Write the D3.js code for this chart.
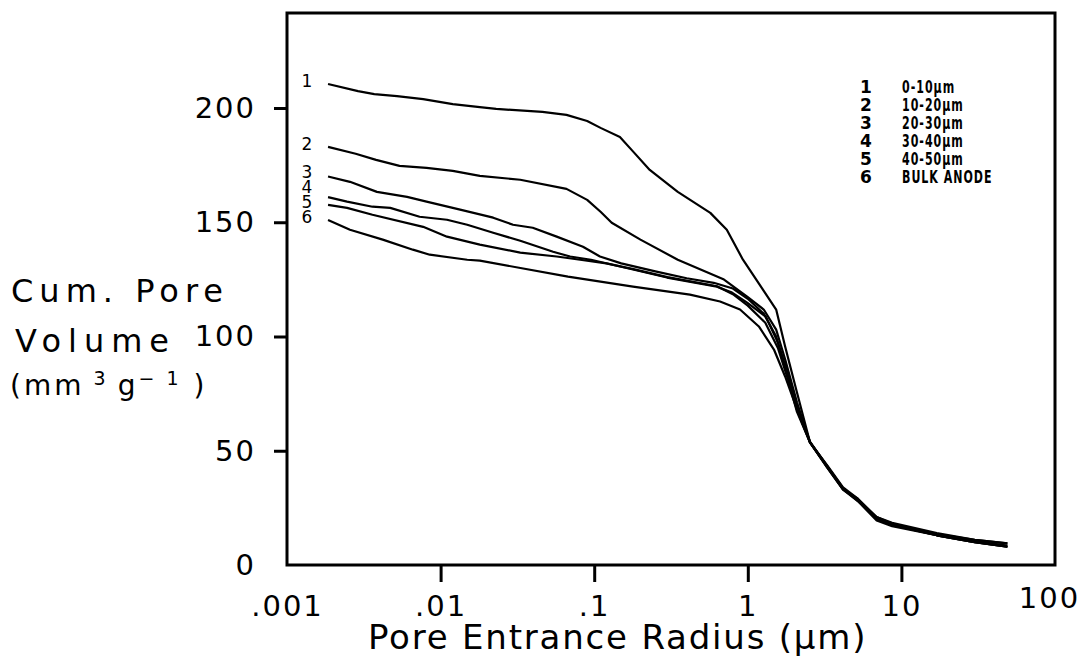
<!DOCTYPE html>
<html>
<head>
<meta charset="utf-8">
<script src="https://cdn.jsdelivr.net/npm/d3@7/dist/d3.min.js"></script>
<style>
body { margin: 0; background: #fff; }
text { font-family: "DejaVu Sans", sans-serif; fill: #000; }
</style>
</head>
<body>
<div id="chart"></div>
<script>
// cumulative pore volume curves : [pore entrance radius (um), volume (mm3/g)]
var curve1 = [[0.00185,210.5],[0.0029,207.4],[0.0037,206.1],[0.0052,205.2],[0.0077,203.9],[0.012,201.7],[0.018,200.4],[0.023,199.6],[0.046,198.3],[0.066,197.0],[0.09,194.3],[0.11,191.3],[0.147,187.3],[0.18,180.8],[0.23,172.9],[0.35,163.3],[0.57,154.1],[0.73,146.7],[0.93,133.6],[1.53,111.8],[1.75,95.6],[2.09,75.5],[2.54,53.7],[3.3,43],[4.17,33.2],[5.2,29],[6.9,20.5],[8.7,18],[17,13.5],[30,11],[49,9.5]];
var curve2 = [[0.00185,183],[0.0028,180],[0.0038,177.3],[0.0054,174.7],[0.0081,173.8],[0.012,172.5],[0.018,170.3],[0.033,168.6],[0.066,164.6],[0.09,159.8],[0.11,154.6],[0.13,149.8],[0.2,142.4],[0.35,133.6],[0.7,124.9],[0.99,117.5],[1.27,111.8],[1.53,103],[1.75,90],[2.09,71.2],[2.54,53.7],[3.3,43],[4.17,33.5],[5.2,28],[6.9,21],[8.7,18.5],[17,14],[30,11],[49,9.5]];
var curve3 = [[0.00185,170],[0.00257,167.7],[0.00385,163.3],[0.00605,161.1],[0.0081,159],[0.0134,155.5],[0.022,152],[0.0296,148.9],[0.0398,147.6],[0.057,143.7],[0.0845,139.3],[0.109,135],[0.15,132],[0.25,128.5],[0.4,125.5],[0.6,123.5],[0.8,121],[1.0,116.5],[1.27,110],[1.53,100],[1.75,86],[2.09,70],[2.54,54],[3.3,43],[4.17,33.5],[5.2,28.5],[6.9,20],[8.7,17.5],[17,13],[30,10],[49,8]];
var curve4 = [[0.00185,161],[0.00246,159],[0.0036,156.8],[0.0047,156.3],[0.0073,152.4],[0.011,151.1],[0.0149,148.9],[0.022,145.4],[0.033,141.9],[0.054,137.1],[0.0697,135],[0.0953,133.6],[0.179,129.3],[0.298,125.8],[0.63,121.8],[0.79,119.2],[0.99,114.8],[1.31,108.7],[1.57,97.4],[1.85,82.5],[2.09,68],[2.54,53.7],[3.3,43.5],[4.17,34],[5.2,29],[6.9,21],[8.7,18],[17,13.5],[30,10.5],[49,8.5]];
var curve5 = [[0.00185,157.6],[0.00246,156.3],[0.0036,153.3],[0.0077,148],[0.011,143.7],[0.018,140.2],[0.033,136.7],[0.057,135],[0.081,133.6],[0.12,132],[0.18,129.5],[0.3,126],[0.63,122],[0.8,118.5],[1.0,113.5],[1.3,106],[1.57,95],[1.85,80],[2.09,67],[2.54,53.7],[3.3,42.5],[4.17,33],[5.2,28],[6.9,19.5],[8.7,17],[17,13],[30,10],[49,8]];
var curve6 = [[0.00185,151],[0.00257,146.7],[0.0042,142.4],[0.0066,138],[0.0085,135.8],[0.0149,133.6],[0.018,133.2],[0.0675,126.2],[0.179,121.8],[0.42,118.3],[0.66,115.3],[0.89,111.8],[1.18,104.4],[1.48,94.3],[1.75,82.5],[2.09,68.1],[2.54,53.7],[3.3,42.5],[4.17,33],[5.2,28.5],[6.9,20],[8.7,17.5],[17,13],[30,10],[49,8]];

var curves = [curve1, curve2, curve3, curve4, curve5, curve6];
var curveNames = ["1", "2", "3", "4", "5", "6"];
var legendLabels = ["0-10\u00b5m", "10-20\u00b5m", "20-30\u00b5m", "30-40\u00b5m", "40-50\u00b5m", "BULK ANODE"];

var xTicks = [0.001, 0.01, 0.1, 1, 10, 100];
var xTickLabels = [".001", ".01", ".1", "1", "10", "100"];
var yTicks = [0, 50, 100, 150, 200];

var width = 1082, height = 658;
// note: "top" is taken by window.top, so plot* names
var plotLeft = 287, plotRight = 1055, plotTop = 13, plotBottom = 565;

var svg = d3.select("#chart")
	.append("svg")
	.attr("width", width)
	.attr("height", height);

var x = d3.scaleLog().domain([0.001, 100]).range([plotLeft, plotRight]);
var y = d3.scaleLinear().domain([0, 200]).range([plotBottom, 108]);

// frame
svg.append("rect")
	.attr("x", plotLeft)
	.attr("y", plotTop)
	.attr("width", plotRight - plotLeft)
	.attr("height", plotBottom - plotTop)
	.attr("fill", "none")
	.attr("stroke", "#000")
	.attr("stroke-width", 3);

// x axis
svg.append("g")
	.attr("transform", `translate(0,${plotBottom})`)
	.call(d3.axisBottom(x).tickValues(xTicks).tickSize(17).tickPadding(13).tickFormat((d, i) => xTickLabels[i]))
	.call(g => g.select(".domain").remove())
	.call(g => g.selectAll(".tick line").attr("stroke-width", 3))
	.call(g => g.selectAll(".tick").filter((d, i) => i == 0 || i == xTicks.length - 1).select("line").remove())
	.call(g => g.selectAll(".tick text").attr("font-size", 29).attr("font-family", "DejaVu Sans").attr("letter-spacing", 2))
	.call(g => g.selectAll(".tick").filter((d, i) => i == xTicks.length - 1).select("text").attr("y", 22).attr("dx", -6));

// y axis
svg.append("g")
	.attr("transform", `translate(${plotLeft},0)`)
	.call(d3.axisLeft(y).tickValues(yTicks).tickSize(13).tickPadding(18))
	.call(g => g.select(".domain").remove())
	.call(g => g.selectAll(".tick line").attr("stroke-width", 3))
	.call(g => g.selectAll(".tick").filter(d => d == 0).select("line").remove())
	.call(g => g.selectAll(".tick text").attr("font-size", 29).attr("font-family", "DejaVu Sans").attr("letter-spacing", 2));

// curves
var line = d3.line()
	.x(d => x(d[0]))
	.y(d => y(d[1]));

svg.append("g")
	.selectAll("path")
	.data(curves)
	.enter()
	.append("path")
	.attr("d", line)
	.attr("fill", "none")
	.attr("stroke", "#000")
	.attr("stroke-width", 2.2)
	.attr("stroke-linejoin", "round");

// curve numbers at the left ends, pushed up so they do not overlap
var labelY = curves.map(c => y(c[0][1]) - 3);
for (var i = labelY.length - 2; i >= 0; i--) {
	labelY[i] = Math.min(labelY[i], labelY[i + 1] - 15);
}
svg.append("g")
	.selectAll("text")
	.data(curveNames)
	.enter()
	.append("text")
	.attr("x", x(curve1[0][0]) - 21)
	.attr("y", (d, i) => labelY[i])
	.attr("dy", "0.35em")
	.attr("text-anchor", "middle")
	.attr("font-size", 17)
	.text(d => d);

// legend (narrow plotter lettering -> squeezed horizontally)
var legendY = (d, i) => 93 + i * 18;
svg.append("g")
	.attr("font-size", 17)
	.attr("font-weight", "bold")
	.selectAll("text")
	.data(curveNames)
	.enter()
	.append("text")
	.attr("x", 866)
	.attr("y", legendY)
	.attr("text-anchor", "middle")
	.text(d => d);
svg.append("g")
	.attr("transform", "translate(902,0) scale(0.65,1)")
	.attr("font-size", 17)
	.attr("font-weight", "bold")
	.selectAll("text")
	.data(legendLabels)
	.enter()
	.append("text")
	.attr("x", 0)
	.attr("y", legendY)
	.attr("letter-spacing", 1.5)
	.text(d => d);

// axis titles
svg.append("text")
	.attr("x", 368)
	.attr("y", 649)
	.attr("font-size", 34)
	.attr("letter-spacing", 1.8)
	.text("Pore Entrance Radius (\u00b5m)");

var yTitle = svg.append("g")
	.attr("font-size", 32)
	.attr("letter-spacing", 6);
yTitle.append("text").attr("x", 11).attr("y", 302).text("Cum. Pore");
yTitle.append("text").attr("x", 15).attr("y", 352).attr("letter-spacing", 7).text("Volume");
var unit = yTitle.append("text").attr("x", 10).attr("y", 395).attr("font-size", 28).attr("letter-spacing", 3);
unit.append("tspan").text("(mm");
unit.append("tspan").attr("dy", -10).attr("font-size", 19).text(" 3 ");
unit.append("tspan").attr("dy", 10).text("g");
unit.append("tspan").attr("dy", -10).attr("font-size", 19).text("\u2212 1");
unit.append("tspan").attr("dy", 10).text(" )");
</script>
</body>
</html>
